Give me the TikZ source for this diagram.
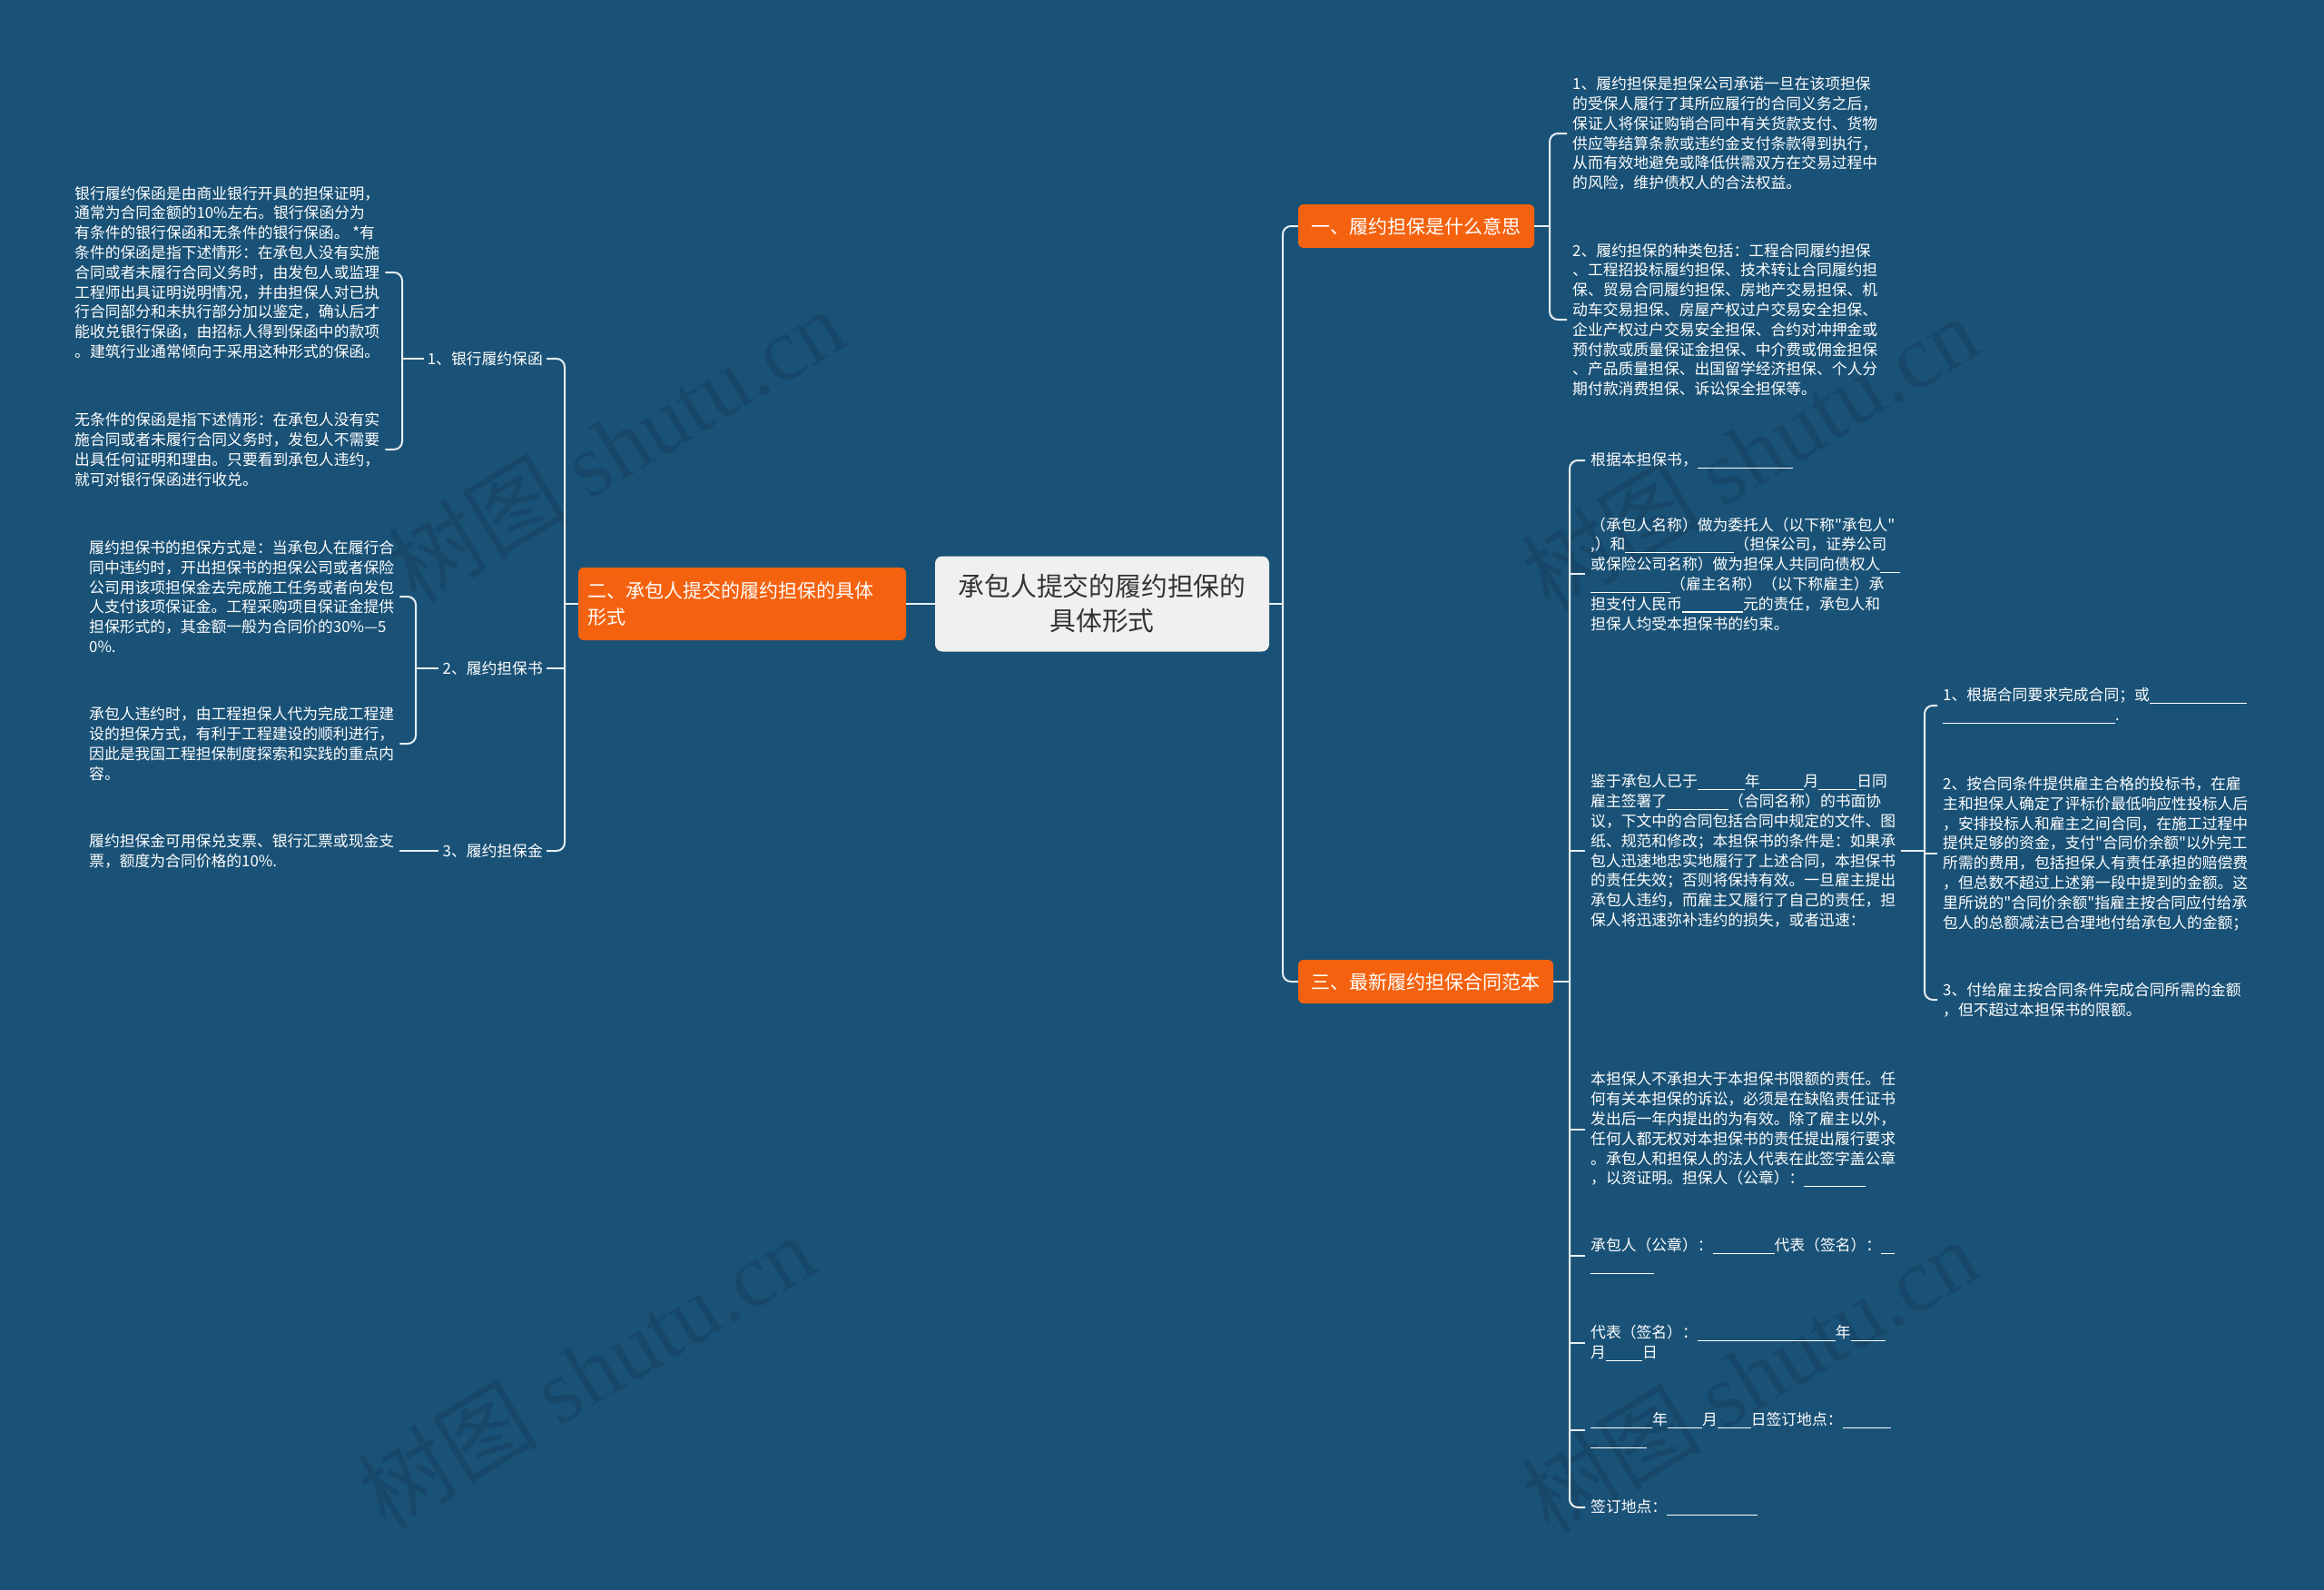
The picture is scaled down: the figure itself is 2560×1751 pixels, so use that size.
\documentclass[tikz,border=0pt]{standalone}
\usepackage{fontspec}
\setmainfont{Noto Sans CJK SC}
\newfontfamily\cjk{Noto Sans CJK SC}
\newfontfamily\wmfont{Liberation Serif}
\definecolor{bg}{HTML}{1A5277}
\definecolor{org}{HTML}{F5620F}
\definecolor{ctr}{HTML}{F0F0F0}
\definecolor{ln}{HTML}{E8EEF2}
\newcommand\bl[1]{\rule[-0.2em]{#1pt}{1.1pt}}
\tikzset{
  txt/.style={font=\cjk\fontsize{16.8}{21.8}\selectfont, text=white, align=left, inner xsep=6pt, inner ysep=2pt, anchor=west},
  lbl/.style={font=\cjk\fontsize{16.8}{20}\selectfont, text=white, inner xsep=4pt, inner ysep=2pt},
  obox/.style={fill=org, rounded corners=6pt, text=white, font=\cjk\fontsize{21}{29}\selectfont},
  conn/.style={draw=ln, line width=2pt, rounded corners=9pt},
  wm/.style={rotate=31, text=black, opacity=0.11, font=\fontsize{100}{100}\selectfont}
}
\begin{document}
\begin{tikzpicture}[x=1pt,y=-1pt]
\fill[bg] (0,0) rectangle (2560,1751);
\useasboundingbox (0,0) rectangle (2560,1751);
% watermarks
\node[wm] (w1) at (678,490) {\cjk 树图 \wmfont shutu.cn};
\node[wm] (w2) at (1927,498) {\cjk 树图 \wmfont shutu.cn};
\node[wm] (w3) at (645,1510) {\cjk 树图 \wmfont shutu.cn};
\node[wm] (w4) at (1927,1515) {\cjk 树图 \wmfont shutu.cn};

% central
\node[fill=ctr, rounded corners=8pt, minimum width=368pt, minimum height=105pt, align=center, font=\cjk\fontsize{28.8}{38}\selectfont, text=black!80] (c) at (1214,665) {承包人提交的履约担保的\\具体形式};

% main branches
\node[obox, minimum width=260pt, minimum height=48pt] (b1) at (1560,249) {一、履约担保是什么意思};
\node[obox, minimum width=281pt, minimum height=48pt] (b3) at (1570.5,1081) {三、最新履约担保合同范本};
\node[obox, minimum width=361pt, minimum height=80pt, align=left, text width=340pt] (b2) at (817.5,665) {二、承包人提交的履约担保的具体\\形式};

% left labels
\node[lbl, anchor=east] (lab1) at (602,395) {1、银行履约保函};
\node[lbl, anchor=east] (lab2) at (602,736) {2、履约担保书};
\node[lbl, anchor=east] (lab3) at (602,937) {3、履约担保金};

% left texts
\node[txt] (A1) at (76,300) {银行履约保函是由商业银行开具的担保证明，\\通常为合同金额的10\%左右。银行保函分为\\有条件的银行保函和无条件的银行保函。 *有\\条件的保函是指下述情形：在承包人没有实施\\合同或者未履行合同义务时，由发包人或监理\\工程师出具证明说明情况，并由担保人对已执\\行合同部分和未执行部分加以鉴定，确认后才\\能收兑银行保函，由招标人得到保函中的款项\\。建筑行业通常倾向于采用这种形式的保函。};
\node[txt] (A2) at (76,495) {无条件的保函是指下述情形：在承包人没有实\\施合同或者未履行合同义务时，发包人不需要\\出具任何证明和理由。只要看到承包人违约，\\就可对银行保函进行收兑。};
\node[txt] (B1) at (92,657) {履约担保书的担保方式是：当承包人在履行合\\同中违约时，开出担保书的担保公司或者保险\\公司用该项担保金去完成施工任务或者向发包\\人支付该项保证金。工程采购项目保证金提供\\担保形式的，其金额一般为合同价的30\%—5\\0\%.};
\node[txt] (B2) at (92,819) {承包人违约时，由工程担保人代为完成工程建\\设的担保方式，有利于工程建设的顺利进行，\\因此是我国工程担保制度探索和实践的重点内\\容。};
\node[txt] (C1) at (92,937) {履约担保金可用保兑支票、银行汇票或现金支\\票，额度为合同价格的10\%.};

% right top texts
\node[txt] (R1) at (1726,147) {1、履约担保是担保公司承诺一旦在该项担保\\的受保人履行了其所应履行的合同义务之后，\\保证人将保证购销合同中有关货款支付、货物\\供应等结算条款或违约金支付条款得到执行，\\从而有效地避免或降低供需双方在交易过程中\\的风险，维护债权人的合法权益。};
\node[txt] (R2) at (1726,352) {2、履约担保的种类包括：工程合同履约担保\\、工程招投标履约担保、技术转让合同履约担\\保、贸易合同履约担保、房地产交易担保、机\\动车交易担保、房屋产权过户交易安全担保、\\企业产权过户交易安全担保、合约对冲押金或\\预付款或质量保证金担保、中介费或佣金担保\\、产品质量担保、出国留学经济担保、个人分\\期付款消费担保、诉讼保全担保等。};

% right bottom texts
\node[txt] (S1) at (1746,507) {根据本担保书，\bl{105}};
\node[txt] (S2) at (1746,632) {（承包人名称）做为委托人（以下称"承包人"\\,）和\bl{120}（担保公司，证券公司\\或保险公司名称）做为担保人共同向债权人\bl{22}\\\bl{88}（雇主名称）（以下称雇主）承\\担支付人民币\bl{67}元的责任，承包人和\\担保人均受本担保书的约束。};
\node[txt] (S3) at (1746,937) {鉴于承包人已于\bl{52}年\bl{48}月\bl{42}日同\\雇主签署了\bl{68}（合同名称）的书面协\\议，下文中的合同包括合同中规定的文件、图\\纸、规范和修改；本担保书的条件是：如果承\\包人迅速地忠实地履行了上述合同，本担保书\\的责任失效；否则将保持有效。一旦雇主提出\\承包人违约，而雇主又履行了自己的责任，担\\保人将迅速弥补违约的损失，或者迅速：};
\node[txt] (S4) at (1746,1244) {本担保人不承担大于本担保书限额的责任。任\\何有关本担保的诉讼，必须是在缺陷责任证书\\发出后一年内提出的为有效。除了雇主以外，\\任何人都无权对本担保书的责任提出履行要求\\。承包人和担保人的法人代表在此签字盖公章\\，以资证明。担保人（公章）：\bl{68}};
\node[txt] (S5) at (1746,1383) {承包人（公章）：\bl{68}代表（签名）：\bl{15}\\\bl{70}};
\node[txt] (S6) at (1746,1479) {代表（签名）：\bl{152}年\bl{38}\\月\bl{40}日};
\node[txt] (S7) at (1746,1575) {\bl{68}年\bl{38}月\bl{37}日签订地点：\bl{53}\\\bl{62}};
\node[txt] (S8) at (1746,1660) {签订地点：\bl{100}};

% sub texts
\node[txt] (T1) at (2134,777) {1、根据合同要求完成合同；或\bl{107}\\\bl{190}.};
\node[txt] (T2) at (2134,940) {2、按合同条件提供雇主合格的投标书，在雇\\主和担保人确定了评标价最低响应性投标人后\\，安排投标人和雇主之间合同，在施工过程中\\提供足够的资金，支付"合同价余额"以外完工\\所需的费用，包括担保人有责任承担的赔偿费\\，但总数不超过上述第一段中提到的金额。这\\里所说的"合同价余额"指雇主按合同应付给承\\包人的总额减法已合理地付给承包人的金额；};
\node[txt] (T3) at (2134,1101) {3、付给雇主按合同条件完成合同所需的金额\\，但不超过本担保书的限额。};

% junction x positions
\coordinate (jR) at (1413,0);
\coordinate (jL) at (622,0);
\coordinate (j1) at (1707,0);
\coordinate (j3) at (1729,0);
\coordinate (j4) at (2120,0);
\coordinate (jA) at (443,0);
\coordinate (jB) at (458,0);

% connectors: center
\draw[conn] (b1.west) -| (c.east -| jR) |- (b3.west);
\draw[conn] (c.east) -- (c.east -| jR);
\draw[conn] (c.west) -- (b2.east);
% left trunk
\draw[conn] (lab1.east) -| (b2.west -| jL) |- (lab3.east);
\draw[conn] (lab2.east) -- (lab2.east -| jL);
\draw[conn] (b2.west) -- (b2.west -| jL);
% left brackets
\draw[conn] (A1.east) -| (lab1.west -| jA) |- (A2.east);
\draw[conn] (lab1.west) -- (lab1.west -| jA);
\draw[conn] (B1.east) -| (lab2.west -| jB) |- (B2.east);
\draw[conn] (lab2.west) -- (lab2.west -| jB);
\draw[conn] (C1.east) -- (lab3.west);
% right bracket 1
\draw[conn] (R1.west) -| (b1.east -| j1) |- (R2.west);
\draw[conn] (b1.east) -- (b1.east -| j1);
% right bracket 3
\draw[conn] (S1.west) -| (b3.east -| j3) |- (S8.west);
\draw[conn] (b3.east) -- (b3.east -| j3);
\foreach \n in {S2,S3,S4,S5,S6,S7} \draw[conn] (\n.west) -- (\n.west -| j3);
% sub bracket
\draw[conn] (T1.west) -| (S3.east -| j4) |- (T3.west);
\draw[conn] (S3.east) -- (S3.east -| j4);
\draw[conn] (T2.west) -- (T2.west -| j4);
\end{tikzpicture}
\end{document}
